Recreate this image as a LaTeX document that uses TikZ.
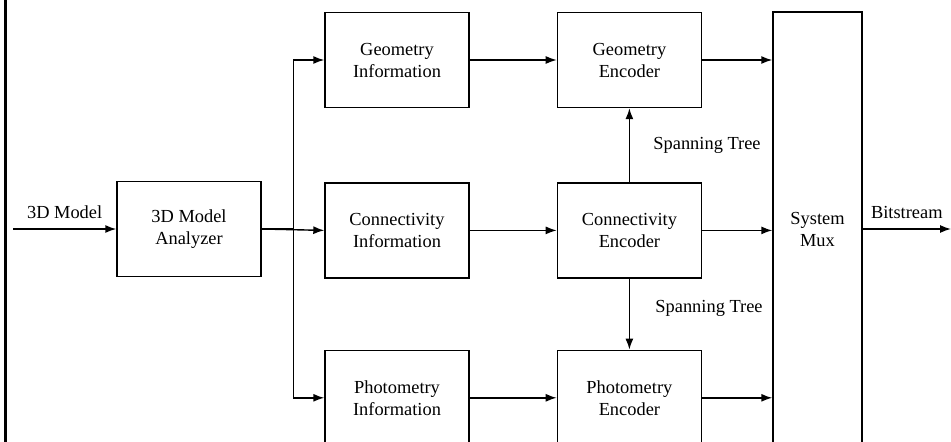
\documentclass[tikz,border=0pt]{standalone}
\usepackage{fontspec}
\setmainfont{Liberation Serif}
\usepackage{tikz}
\usetikzlibrary{arrows.meta, positioning}

\begin{document}
\begin{tikzpicture}[
    x=1pt, y=1pt,
    every node/.style={font=\fontsize{18.4}{22}\selectfont},
    box/.style={draw, line width=1.4pt, rectangle, minimum width=144pt, minimum height=95pt, align=center, inner sep=0pt},
    arrow/.style={line width=1.4pt, -{Latex[length=11pt,width=8pt]}}
]
\useasboundingbox (0,0) rectangle (951,-442);

\draw [line width=3pt] (5,0) -- (5,-442);

\node (analyzer) [box] at (189,-229) {3D Model\\Analyzer};
\node (geoinfo) [box] at (397,-60) {Geometry\\Information};
\node (coninfo) [box, below=74pt of geoinfo] {Connectivity\\Information};
\node (photinfo) [box, below=71pt of coninfo] {Photometry\\Information};

\node (geoenc) [box, right=87pt of geoinfo] {Geometry\\Encoder};
\node (conenc) [box, right=87pt of coninfo] {Connectivity\\Encoder};
\node (photenc) [box, right=87pt of photinfo] {Photometry\\Encoder};

\node (mux) [box, minimum width=89pt, minimum height=434pt] at (817.5,-229) {System\\Mux};

\coordinate (in) at (13,-229);
\coordinate (out) at (951,-229);

\draw [arrow] (in) -- node[above=6pt] {3D Model} (analyzer.west);
\draw [arrow] (analyzer.east) -- (coninfo.west);
\draw [arrow] (analyzer.east) -- ++(32,0) |- (geoinfo.west);
\draw [arrow] (analyzer.east) -- ++(32,0) |- (photinfo.west);

\draw [arrow] (geoinfo) -- (geoenc);
\draw [arrow] (coninfo) -- (conenc);
\draw [arrow] (photinfo) -- (photenc);

\draw [arrow] (conenc.north) -- node[right=20pt] {Spanning Tree} (geoenc.south);
\draw [arrow] (conenc.south) -- node[pos=0.42, right=22pt] {Spanning Tree} (photenc.north);

\draw [arrow] (geoenc.east) -- (geoenc.east -| mux.west);
\draw [arrow] (conenc.east) -- (conenc.east -| mux.west);
\draw [arrow] (photenc.east) -- (photenc.east -| mux.west);

\draw [arrow] (mux.east |- out) -- node[above=6pt] {Bitstream} (out);

\end{tikzpicture}
\end{document}
